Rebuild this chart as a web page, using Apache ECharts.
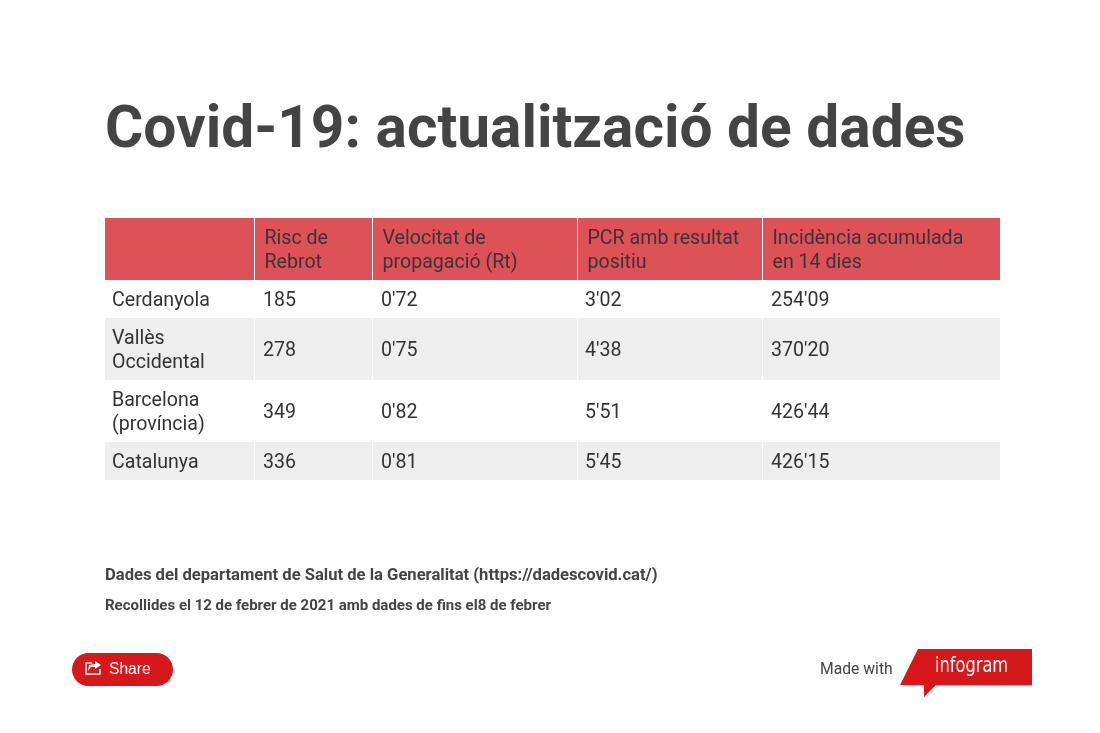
<!DOCTYPE html>
<html>
<head>
<meta charset="utf-8">
<title>Covid-19: actualització de dades</title>
<style>
  html, body { margin: 0; padding: 0; background: #fff; }
  #chart { width: 1100px; height: 733px; }
</style>
<script src="https://cdn.jsdelivr.net/npm/echarts@6/dist/echarts.min.js"></script>
</head>
<body>
<div id="chart"></div>
<script>
// table content
const headers = ['', 'Risc de\nRebrot', 'Velocitat de\npropagació (Rt)', 'PCR amb resultat\npositiu', 'Incidència acumulada\nen 14 dies'];
const territories = ['Cerdanyola', 'Vallès\nOccidental', 'Barcelona\n(província)', 'Catalunya'];
const riscRebrot = ['185', '278', '349', '336'];
const velocitat = ["0'72", "0'75", "0'82", "0'81"];
const pcrPositiu = ["3'02", "4'38", "5'51", "5'45"];
const incidencia = ["254'09", "370'20", "426'44", "426'15"];

// layout of the table, in px
const colWidths = [150, 118, 205, 185, 237];
const rowHeights = [62, 38, 62, 62, 38];

const columns = [territories, riscRebrot, velocitat, pcrPositiu, incidencia];
const colEdges = [0];
colWidths.forEach(w => colEdges.push(colEdges[colEdges.length - 1] + w));
const rowEdges = [0];
rowHeights.forEach(h => rowEdges.push(rowEdges[rowEdges.length - 1] + h));

// one item per cell: [column, row, text]
const cells = [];
headers.forEach((h, c) => cells.push([c, 0, h]));
columns.forEach((col, c) => {
  col.forEach((v, r) => cells.push([c, r + 1, v]));
});

const bodyPad = [7, 8, 8, 7, 8];

function renderCell(params, api) {
  const c = api.value(0);
  const r = api.value(1);
  const text = cells[params.dataIndex][2];
  const tl = api.coord([colEdges[c], rowEdges[r]]);
  const br = api.coord([colEdges[c + 1], rowEdges[r + 1]]);
  const isHead = r === 0;
  const fill = isHead ? '#dc5257' : (r % 2 === 0 ? '#eeeeee' : '#ffffff');
  const pad = isHead ? 9.5 : bodyPad[c];
  return {
    type: 'group',
    children: [{
      type: 'rect',
      shape: { x: tl[0], y: tl[1], width: br[0] - tl[0] - (c < 4 ? 1 : 0), height: br[1] - tl[1] },
      style: { fill: fill }
    }, {
      type: 'text',
      style: {
        x: tl[0] + pad,
        y: (tl[1] + br[1]) / 2 + 2.5,
        text: text,
        fill: isHead ? '#3d3236' : '#333333',
        font: '400 19.6px Roboto',
        lineHeight: 24,
        verticalAlign: 'middle',
        align: 'left'
      }
    }]
  };
}

const chart = echarts.init(document.getElementById('chart'), null, { renderer: 'canvas' });

chart.setOption({
  animation: false,
  backgroundColor: '#ffffff',
  grid: { left: 105, top: 218, width: 895, height: 262 },
  xAxis: { type: 'value', min: 0, max: 895, show: false },
  yAxis: { type: 'value', min: 0, max: 262, inverse: true, show: false },
  series: [{
    type: 'custom',
    coordinateSystem: 'cartesian2d',
    renderItem: renderCell,
    encode: { x: 0, y: 1 },
    data: cells.map(d => [d[0], d[1]]),
    silent: true
  }],
  graphic: [
    { type: 'text', left: 105, top: 103, style: { text: 'Covid-19: actualització de dades', fill: '#444444', font: '700 58.6px Roboto' } },
    { type: 'text', left: 105, top: 567, style: { text: 'Dades del departament de Salut de la Generalitat (https://dadescovid.cat/)', fill: '#444444', font: '700 16.6px Roboto' } },
    { type: 'text', left: 105, top: 599, style: { text: 'Recollides el 12 de febrer de 2021 amb dades de fins el8 de febrer', fill: '#444444', font: '700 15px Roboto' } },
    // share button
    { type: 'rect', shape: { x: 72, y: 653, width: 101, height: 33, r: 16.5 }, style: { fill: '#d7181b' } },
    { type: 'polyline', shape: { points: [[92, 663], [86, 663], [86, 674], [100, 674], [100, 669]] }, style: { stroke: '#fff', lineWidth: 1.6, fill: 'none' } },
    { type: 'polygon', shape: { points: [[95, 661], [101, 665], [95, 669], [95, 667], [91, 667], [88, 671], [89, 665], [95, 664]] }, style: { fill: '#fff' } },
    { type: 'text', left: 109, top: 662, style: { text: 'Share', fill: '#ffffff', font: '400 15.6px "Liberation Sans"' } },
    // footer logo
    { type: 'text', left: 820, top: 662, style: { text: 'Made with', fill: '#444444', font: '400 15.7px Roboto' } },
    { type: 'polygon', shape: { points: [[918, 649], [1032, 649], [1032, 685], [936, 685], [924, 697], [924, 685], [900, 685]] }, style: { fill: '#d7181b' } },
    { type: 'text', x: 935, y: 655, scaleX: 0.82, style: { text: 'infogram', fill: '#ffffff', font: '400 22px "DejaVu Sans Condensed"' } }
  ]
});
</script>
</body>
</html>
